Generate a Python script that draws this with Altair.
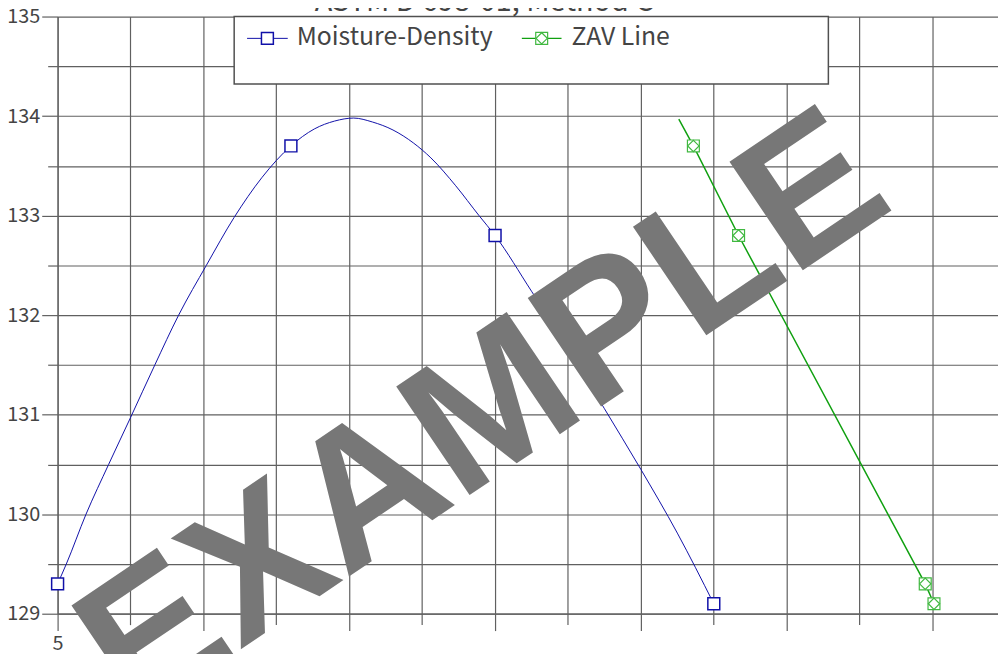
import altair as alt
import pandas as pd

# ---- data ----
md_moisture = [5.0, 6.6, 8.0, 9.5]
md_density = [129.3, 133.7, 132.8, 129.1]

curve_moisture = [5.00, 5.06, 5.195, 5.35, 5.50, 5.667, 5.83, 6.02, 6.21, 6.40, 6.60,
                  6.76, 6.90, 7.03, 7.16, 7.30, 7.44, 7.56, 7.73, 7.89, 8.00,
                  8.25, 8.50, 8.75, 9.00, 9.25, 9.50]
curve_density = [129.30, 129.50, 130.00, 130.50, 130.97, 131.50, 132.00, 132.50, 132.98, 133.38, 133.70,
                 133.87, 133.95, 133.98, 133.94, 133.86, 133.73, 133.58, 133.30, 133.00, 132.80,
                 132.24, 131.67, 131.06, 130.45, 129.81, 129.10]

zav_moisture = [9.36, 9.67, 10.95, 11.01]
zav_density = [133.7, 132.8, 129.3, 129.1]
zav_line_moisture = [9.26, 9.36, 9.67, 10.95, 11.01]
zav_line_density = [133.97, 133.7, 132.8, 129.3, 129.1]

x_ticks = [5, 5.5, 6, 6.5, 7, 7.5, 8, 8.5, 9, 9.5, 10, 10.5, 11]
x_tick_labels = ["5"]
y_ticks = [129, 129.5, 130, 130.5, 131, 131.5, 132, 132.5, 133, 133.5, 134, 134.5, 135]

title_text = "ASTM D 698-01, Method C"
legend_labels = ["Moisture-Density", "ZAV Line"]
watermark_text = "EXAMPLE"

FONT = "Noto Sans CJK KR"
GRID = "#606060"
BLUE = "#1010a8"
GREEN = "#10a010"
GREEN_M = "#40b840"

curve_df = pd.DataFrame({"moisture": curve_moisture, "density": curve_density})
md_df = pd.DataFrame({"moisture": md_moisture, "density": md_density})
zav_line_df = pd.DataFrame({"moisture": zav_line_moisture, "density": zav_line_density})
zav_df = pd.DataFrame({"moisture": zav_moisture, "density": zav_density})
one = pd.DataFrame({"k": [0]})

xs = alt.Scale(domain=[5, 11.449], nice=False, zero=False)
ys = alt.Scale(domain=[129, 135], nice=False, zero=False)

label_list = ",".join("'%s'" % l for l in x_tick_labels)
x_axis = alt.Axis(
    values=x_ticks, grid=True, title=None,
    labelExpr="indexof([%s], format(datum.value, '~g')) >= 0 ? format(datum.value, '~g') : ''" % label_list,
    tickSize={"condition": {"test": "datum.value % 1 === 0", "value": 17}, "value": 11},
    labelFontSize=20, labelPadding=3, labelFlush=False, labelOverlap=False,
)
y_axis = alt.Axis(
    values=y_ticks, grid=True, title=None,
    labelExpr="datum.value % 1 === 0 ? format(datum.value, 'd') : ''",
    tickSize={"condition": {"test": "datum.value % 1 === 0", "value": 16}, "value": 10},
    labelFontSize=20, labelPadding=2, labelFlush=False, labelOverlap=False,
)

X = alt.X("moisture:Q", scale=xs, axis=x_axis)
Y = alt.Y("density:Q", scale=ys, axis=y_axis)

curve = alt.Chart(curve_df).mark_line(color=BLUE, strokeWidth=1, interpolate="monotone").encode(x=X, y=Y)
md_pts = alt.Chart(md_df).mark_point(shape="square", size=144, filled=False, color=BLUE,
                                     fill="white", fillOpacity=1, strokeWidth=1.5, opacity=1).encode(x=X, y=Y)
zav_line = alt.Chart(zav_line_df).mark_line(color=GREEN, strokeWidth=1.5).encode(x=X, y=Y)
zav_sq = alt.Chart(zav_df).mark_point(shape="square", size=144, filled=False, color=GREEN_M,
                                      fill="white", fillOpacity=1, strokeWidth=1.2, opacity=1).encode(x=X, y=Y)
zav_di = alt.Chart(zav_df).mark_point(shape="diamond", size=130, filled=False, color=GREEN_M,
                                      strokeWidth=1.2, opacity=1).encode(x=X, y=Y)

# ---- legend box (pixel positions inside the plot area) ----
leg_box = alt.Chart(one).mark_rect(fill="white", stroke="#505050", strokeWidth=1.5).encode(
    x=alt.value(178), x2=alt.value(777), y=alt.value(0), y2=alt.value(68))
leg_line1 = alt.Chart(one).mark_rule(color=BLUE, strokeWidth=1).encode(
    x=alt.value(191), x2=alt.value(232), y=alt.value(22))
leg_pt1 = alt.Chart(one).mark_point(shape="square", size=144, filled=False, color=BLUE, fill="white",
                                    fillOpacity=1, strokeWidth=1.5, opacity=1).encode(
    x=alt.value(211.5), y=alt.value(22))
leg_txt1 = alt.Chart(one).mark_text(text=legend_labels[0], font=FONT, fontSize=25, color="#444444",
                                    align="left", baseline="middle").encode(
    x=alt.value(241), y=alt.value(20.5))
leg_line2 = alt.Chart(one).mark_rule(color=GREEN, strokeWidth=1.2).encode(
    x=alt.value(468), x2=alt.value(508), y=alt.value(22))
leg_pt2 = alt.Chart(one).mark_point(shape="square", size=144, filled=False, color=GREEN_M, fill="white",
                                    fillOpacity=1, strokeWidth=1.2, opacity=1).encode(
    x=alt.value(488), y=alt.value(22))
leg_pt2d = alt.Chart(one).mark_point(shape="diamond", size=130, filled=False, color=GREEN_M,
                                     strokeWidth=1.2, opacity=1).encode(
    x=alt.value(488), y=alt.value(22))
leg_txt2 = alt.Chart(one).mark_text(text=legend_labels[1], font=FONT, fontSize=25, color="#444444",
                                    align="left", baseline="middle").encode(
    x=alt.value(518), y=alt.value(20.5))

title = alt.Chart(one).mark_text(text=title_text, font=FONT, fontSize=29, color="#444444",
                                 align="center", baseline="alphabetic").encode(
    x=alt.value(430), y=alt.value(-6))

watermark = alt.Chart(one).mark_text(text=watermark_text, font="Liberation Sans", fontWeight="bold",
                                     fontSize=192, color="#777777", align="center",
                                     baseline="alphabetic", angle=326).encode(
    x=alt.value(462), y=alt.value(451))

chart = alt.layer(
    curve, zav_line, md_pts, zav_sq, zav_di,
    leg_box, leg_line1, leg_pt1, leg_txt1, leg_line2, leg_pt2, leg_pt2d, leg_txt2,
    title, watermark,
).properties(
    width=948, height=602,
    autosize=alt.AutoSizeParams(type="none"),
    padding={"left": 50, "top": 6, "right": 0, "bottom": 38},
).configure_view(stroke=None).configure_axis(
    gridColor=GRID, gridWidth=1.2, gridOpacity=1,
    domainColor=GRID, domainWidth=1.2, tickColor=GRID, tickWidth=1.2,
    labelFont=FONT, labelColor="#444444",
)

chart.save("out.html", embed_options={"renderer": "svg", "actions": False})
